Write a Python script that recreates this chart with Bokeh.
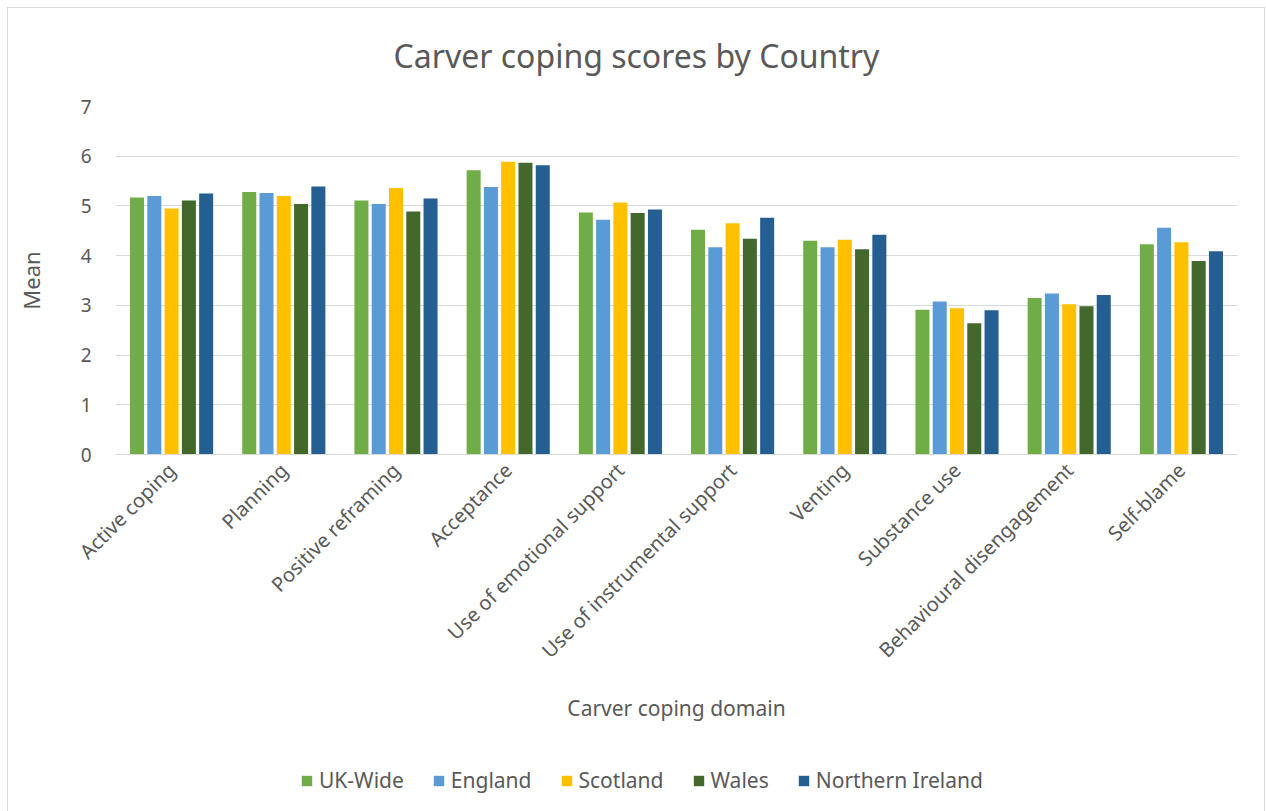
from bokeh.plotting import figure
from bokeh.layouts import column
from bokeh.models import FactorRange, Legend, LegendItem, Range1d, ColumnDataSource, InlineStyleSheet
from bokeh.transform import dodge
from bokeh.embed import file_html
from bokeh.resources import INLINE
import math

categories = ["Active coping", "Planning", "Positive reframing", "Acceptance",
              "Use of emotional support", "Use of instrumental support", "Venting",
              "Substance use", "Behavioural disengagement", "Self-blame"]
uk_wide = [5.17, 5.28, 5.11, 5.72, 4.87, 4.52, 4.30, 2.91, 3.15, 4.23]
england = [5.20, 5.26, 5.04, 5.38, 4.72, 4.17, 4.17, 3.08, 3.24, 4.56]
scotland = [4.95, 5.20, 5.36, 5.89, 5.07, 4.65, 4.32, 2.94, 3.02, 4.27]
wales = [5.11, 5.04, 4.89, 5.87, 4.86, 4.34, 4.13, 2.64, 2.98, 3.89]
northern_ireland = [5.25, 5.39, 5.15, 5.82, 4.93, 4.76, 4.42, 2.90, 3.21, 4.09]
series_names = ["UK-Wide", "England", "Scotland", "Wales", "Northern Ireland"]
y_ticks = [0, 1, 2, 3, 4, 5, 6, 7]

colors = ["#70AD47", "#5B9BD5", "#FFC000", "#43682B", "#255E91"]
FONT = "Noto Sans"
TXT = "#595959"

source = ColumnDataSource(data=dict(cat=categories, s0=uk_wide, s1=england, s2=scotland,
                                    s3=wales, s4=northern_ireland))

p = figure(x_range=FactorRange(*categories), y_range=Range1d(0, 7),
           width=1266, height=745, output_backend="svg", toolbar_location=None,
           min_border_left=115, min_border_right=29, min_border_top=106,
           min_border_bottom=291)

slot = 0.154
for i, name in enumerate(series_names):
    p.vbar(x=dodge("cat", (i - 2) * slot, range=p.x_range), top="s%d" % i,
           width=0.125, source=source, fill_color=colors[i], line_color=None)

p.title.text = "Carver coping scores by Country"
p.title.align = "left"
p.title.offset = 278
p.title.text_font = FONT
p.title.text_font_size = "32px"
p.title.text_font_style = "normal"
p.title.text_color = TXT
p.title.standoff = 60

p.outline_line_color = None
p.xgrid.grid_line_color = None
p.ygrid.grid_line_color = "#d9d9d9"
p.ygrid.grid_line_width = 1

p.yaxis.ticker = y_ticks
p.yaxis.axis_line_color = None
p.yaxis.major_tick_line_color = None
p.yaxis.minor_tick_line_color = None
p.yaxis.major_label_text_font = FONT
p.yaxis.major_label_text_font_size = "19px"
p.yaxis.major_label_text_color = TXT
p.yaxis.major_label_standoff = 18
p.yaxis.axis_label = "Mean"
p.yaxis.axis_label_text_font = FONT
p.yaxis.axis_label_text_font_size = "22px"
p.yaxis.axis_label_text_font_style = "normal"
p.yaxis.axis_label_text_color = TXT
p.yaxis.axis_label_standoff = 32

p.xaxis.axis_line_color = "#d9d9d9"
p.xaxis.major_tick_line_color = None
p.xaxis.minor_tick_line_color = None
p.xaxis.major_label_orientation = math.pi / 4
p.xaxis.major_label_text_font = FONT
p.xaxis.major_label_text_font_size = "20px"
p.xaxis.major_label_text_color = TXT
p.xaxis.major_label_standoff = 6
p.xaxis.axis_label = "Carver coping domain"
p.xaxis.axis_label_text_font = FONT
p.xaxis.axis_label_text_font_size = "21px"
p.xaxis.axis_label_text_font_style = "normal"
p.xaxis.axis_label_text_color = TXT
p.xaxis.axis_label_standoff = 18

# legend strip below the chart (its swatch renderers are zero-height and off range)
lf = figure(width=1266, height=66, output_backend="svg", toolbar_location=None,
            x_range=Range1d(0, 1), y_range=Range1d(0, 1),
            min_border_left=0, min_border_right=0, min_border_top=0, min_border_bottom=0)
lf.axis.visible = False
lf.grid.visible = False
lf.outline_line_color = None
items = []
for i, name in enumerate(series_names):
    r = lf.vbar(x=[-5], top=[-5], bottom=-5, width=0.01, fill_color=colors[i], line_color=None)
    items.append(LegendItem(label=name, renderers=[r]))
legend = Legend(items=items, orientation="horizontal", location=(185, 17),
                border_line_color=None, background_fill_alpha=0,
                label_text_font=FONT, label_text_font_size="21px", label_text_color=TXT,
                glyph_width=13, glyph_height=13, spacing=28, label_standoff=6, padding=2,
                margin=0)
lf.add_layout(legend, "center")

layout = column(p, lf, spacing=0)
layout.stylesheets = [InlineStyleSheet(css=""":host::after { content: ""; position: absolute; left: 7px; top: 7px; right: 1px; bottom: -6px;
 border: 1px solid #d9d9d9; pointer-events: none; z-index: 100; }""")]

open("out.html", "w").write(file_html(layout, INLINE))
